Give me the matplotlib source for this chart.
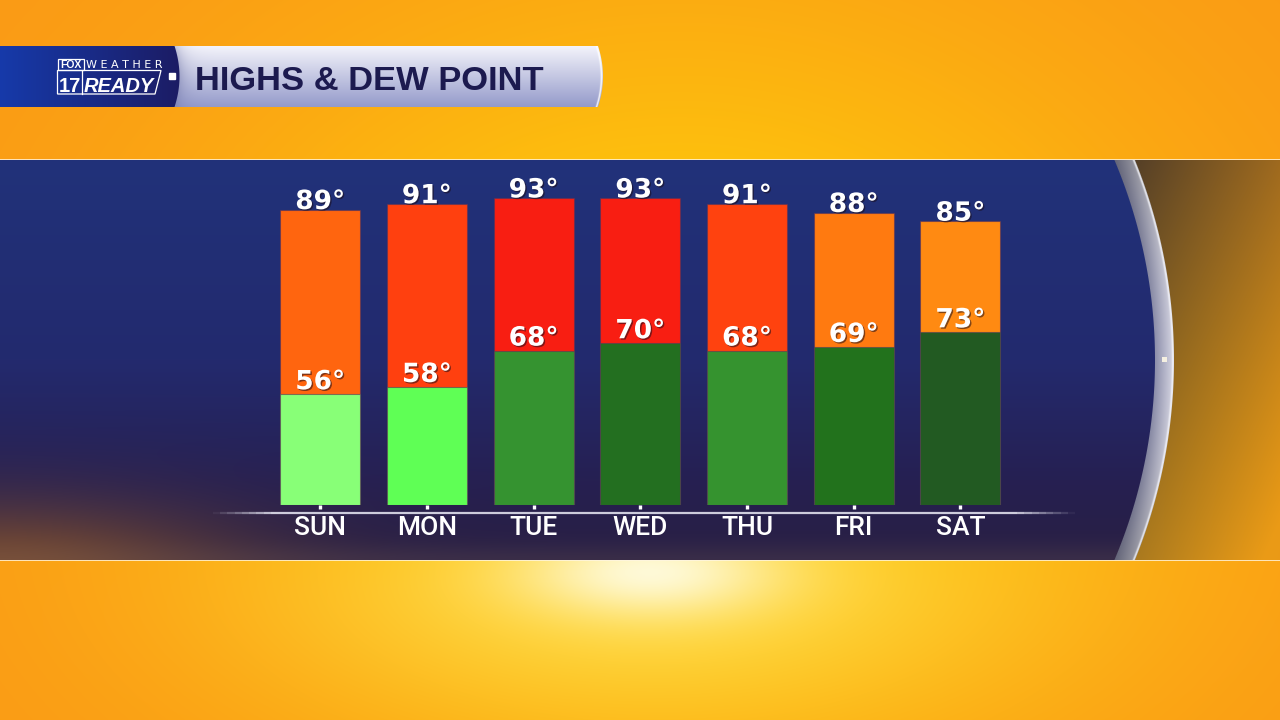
import numpy as np
import matplotlib
matplotlib.use('Agg')
import matplotlib.pyplot as plt
import matplotlib.patheffects as pe
from matplotlib.patches import Rectangle, Polygon
from matplotlib.collections import LineCollection

# ---------------- data ----------------
days = ['SUN', 'MON', 'TUE', 'WED', 'THU', 'FRI', 'SAT']
highs = [89, 91, 93, 93, 91, 88, 85]
dew_points = [56, 58, 68, 70, 68, 69, 73]
high_colors = ['#FF650F', '#FF400F', '#F81E12', '#F81E12', '#FF420F', '#FF7A10', '#FF8A12']
dew_colors = ['#88FF77', '#5FFF55', '#359330', '#236F20', '#35932F', '#22721C', '#225A22']
title = 'HIGHS & DEW POINT'

W, H = 1280, 720
fig = plt.figure(figsize=(12.8, 7.2), dpi=100)


def c(*rgb):
    return np.array(rgb, float) / 255.0


def mix(a, b, t):
    t = np.asarray(t)[..., None]
    return a * (1 - t) + b * t


# ---------------- background image ----------------
X, Y = np.meshgrid(np.arange(W) + 0.5, np.arange(H) + 0.5)
orange = c(250, 152, 22)
yellow = c(255, 208, 10)
bg = np.broadcast_to(orange, (H, W, 3)).copy()
bg = mix(bg, yellow, np.exp(-((X - 680) / 500) ** 2 - ((Y - 400) / 400) ** 2))
bg = mix(bg, c(255, 232, 100), 0.6 * np.exp(-((X - 640) / 330) ** 2 - ((Y - 600) / 110) ** 2))
bg = mix(bg, c(255, 252, 228), 0.92 * np.exp(-((X - 650) / 130) ** 2 - ((Y - 572) / 45) ** 2))

img = bg.copy()

# panel band
band = (Y >= 160) & (Y < 560)
t = np.clip((Y - 160) / 400, 0, 1)
ts = [0, 0.5, 0.8, 1.0]
blue = np.stack([np.interp(t, ts, [33, 35, 38, 40]),
                 np.interp(t, ts, [50, 42, 32, 30]),
                 np.interp(t, ts, [122, 110, 82, 66])], axis=-1) / 255.0
blue = mix(blue, c(200, 120, 30), 0.55 * np.exp(-(X / 240) ** 2 - ((Y - 580) / 75) ** 2))
blue = mix(blue, c(110, 90, 90), 0.25 * np.exp(-((Y - 562) / 18) ** 2))

cx, cy, r_in, r_out = 642.0, 360.0, 513.0, 532.0
d = np.hypot(X - cx, Y - cy)
d = np.where(X < cx, 0.0, d)  # panel continues to the left edge

a_out = np.clip(0.8 - (X - 1130) / 250 * 0.6 - (Y - 160) / 400 * 0.4, 0.08, 0.85)
outside = mix(bg, c(40, 35, 45), a_out)

u = np.clip((d - r_in) / (r_out - r_in), 0, 1)
ring = mix(c(140, 142, 170), c(215, 215, 228), u)
v = np.abs(Y - cy) / 200
ring = ring * (1 - 0.3 * v[..., None] ** 2)
ring = mix(ring, c(245, 245, 250), 0.75 * np.exp(-((d - (r_out - 1.2)) / 1.1) ** 2))

panel = outside
panel = mix(panel, ring, np.clip(r_out + 0.5 - d, 0, 1))
panel = mix(panel, blue, np.clip(r_in + 0.5 - d, 0, 1))
img[band] = panel[band]

# small marker on the ring
img[357:362, 1162:1167] = c(245, 240, 225)

# thin light border lines
for row in (159, 560):
    img[row] = mix(img[row], c(255, 245, 225), 0.8)

# ---------------- header banner ----------------
hdr = (Y >= 46) & (Y < 107)
curve = 5 * ((Y - 76.5) / 30.5) ** 2
dark_right = 179.5 - curve
light_right = 603.0 - curve
darkcol = mix(np.broadcast_to(c(22, 58, 170), (H, W, 3)), c(28, 28, 100), np.clip(X / 180, 0, 1))
tl = np.clip((Y - 46) / 61, 0, 1)
lightcol = mix(np.broadcast_to(c(244, 244, 251), (H, W, 3)), c(148, 154, 202), tl)
lightcol = mix(lightcol, c(90, 95, 150), 0.35 * np.exp(-np.clip(X - dark_right, 0, None) / 8))
lightcol = mix(lightcol, c(255, 255, 255), 0.8 * np.exp(-((X - (light_right - 1.5)) / 1.0) ** 2))
hd = img.copy()
hd = mix(hd, lightcol, np.clip(light_right - X + 0.5, 0, 1))
hd = mix(hd, darkcol, np.clip(dark_right - X + 0.5, 0, 1))
img[hdr] = hd[hdr]

axbg = fig.add_axes([0, 0, 1, 1])
axbg.imshow(np.clip(img, 0, 1), extent=(0, W, H, 0), aspect='auto', interpolation='bilinear')
axbg.set_xlim(0, W)
axbg.set_ylim(H, 0)
axbg.axis('off')

# title
axbg.text(195, 90, title, ha='left', va='baseline', fontsize=24.8, fontweight='bold',
          family='Liberation Sans', color='#1C1A4F')

# logo
axbg.add_patch(Rectangle((57.5, 58.5), 26, 11, fill=False, ec='white', lw=0.9))
axbg.text(70.5, 67.8, 'FOX', ha='center', va='baseline', fontsize=7.5, fontweight='bold',
          family='Liberation Sans', color='white')
axbg.text(124, 67.8, 'W E A T H E R', ha='center', va='baseline', fontsize=8,
          family='DejaVu Sans', color='white')
axbg.add_patch(Polygon([(57.5, 70.5), (161, 70.5), (155, 94), (57.5, 94)], closed=True,
                       fill=False, ec='white', lw=0.9))
axbg.plot([81.5, 81.5], [70.5, 94], color='white', lw=0.9)
axbg.text(69.5, 91.5, '17', ha='center', va='baseline', fontsize=14.5, fontweight='bold',
          family='Liberation Sans', color='white')
axbg.text(84, 91.5, 'READY', ha='left', va='baseline', fontsize=14.5, fontweight='bold',
          style='italic', family='Liberation Sans', color='white')
axbg.add_patch(Rectangle((169, 73), 6, 6, color='white'))

# baseline line with faded ends
xs = np.linspace(213, 1075, 120)
segs = [[(xs[i], 513), (xs[i + 1], 513)] for i in range(len(xs) - 1)]
xm = (xs[:-1] + xs[1:]) / 2
fade = np.clip(np.minimum(xm - 213, 1075 - xm) / 60, 0, 1)
cols = [(0.88, 0.88, 0.93, 0.9 * f) for f in fade]
axbg.add_collection(LineCollection(segs, colors=cols, linewidths=1.6))

# ---------------- chart axes ----------------
left_px, right_px, bottom_px, top_px = 213, 1075, 505, 160
ax = fig.add_axes([left_px / W, (H - bottom_px) / H, (right_px - left_px) / W, (bottom_px - top_px) / H])
ax.patch.set_visible(False)
ax.set_xlim(-1.0047, 7.074)
hmin, hmax = -12.8, 106.2
ax.set_ylim(hmin, hmax)
ax2 = ax.twinx()
ax2.patch.set_visible(False)
dmin, dmax = 25.6, 120.3
ax2.set_ylim(dmin, dmax)

x = np.arange(len(days))
bw = 0.75
ax.bar(x, [h - hmin for h in highs], bottom=hmin, width=bw, color=high_colors,
       edgecolor=(0.35, 0.2, 0.35, 0.6), linewidth=0.8)
ax2.bar(x, [dp - dmin for dp in dew_points], bottom=dmin, width=bw, color=dew_colors,
        edgecolor=(0.3, 0.25, 0.35, 0.6), linewidth=0.8)

shadow = [pe.SimplePatchShadow(offset=(1.0, -1.0), shadow_rgbFace=(0.1, 0.05, 0.1), alpha=0.55),
          pe.Normal()]
for i, (h, dp) in enumerate(zip(highs, dew_points)):
    ax.annotate(f'{h}°', (i, h), xytext=(0, 0.6), textcoords='offset points', ha='center',
                va='baseline', fontsize=19, fontweight='bold', family='DejaVu Sans',
                color='white', path_effects=shadow, annotation_clip=False)
    ax2.annotate(f'{dp}°', (i, dp), xytext=(0, 3.6), textcoords='offset points', ha='center',
                 va='baseline', fontsize=19, fontweight='bold', family='DejaVu Sans',
                 color='white', path_effects=shadow, annotation_clip=False)

for a in (ax, ax2):
    for s in a.spines.values():
        s.set_visible(False)
    a.set_yticks([])
ax.set_xticks(x, days)
ax.tick_params(axis='x', length=3, width=2.4, color='white', pad=5, labelsize=19,
               labelcolor='white', direction='out')
for lab in ax.get_xticklabels():
    lab.set_family('Roboto')
    lab.set_fontweight('medium')

fig.savefig('out.png', dpi=100)
